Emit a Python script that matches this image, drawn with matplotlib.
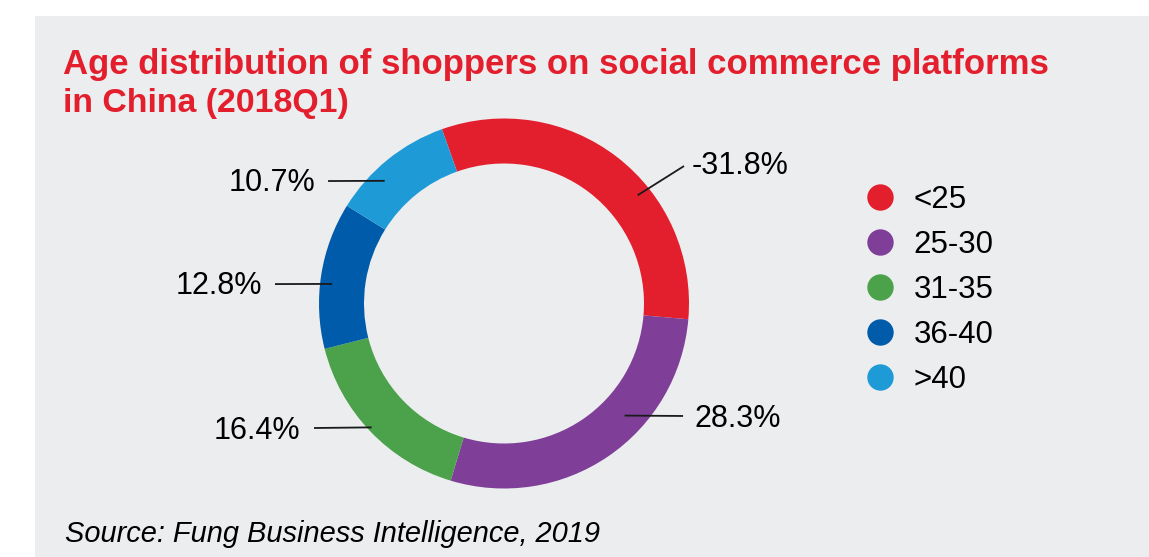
import numpy as np
import matplotlib.pyplot as plt
from matplotlib.patches import Rectangle
from matplotlib.lines import Line2D

plt.rcParams['font.family'] = ['Liberation Sans', 'DejaVu Sans']

# age groups and share of shoppers (%)
groups = ['<25', '25-30', '31-35', '36-40', '>40']
shares = [31.8, 28.3, 16.4, 12.8, 10.7]
share_labels = ['-31.8%', '28.3%', '16.4%', '12.8%', '10.7%']
colors = ['#e31f2d', '#7f3f98', '#4ba24a', '#005baa', '#1e9ad6']

W, H = 1149, 557
BG = '#ecedef'

fig = plt.figure(figsize=(W / 100, H / 100), dpi=100)
fig.patch.set_facecolor('white')
fig.patches.append(Rectangle((35 / W, 0), 1 - 35 / W, (H - 16) / H,
                             transform=fig.transFigure, facecolor=BG,
                             edgecolor='none', zorder=-1))

# donut centre / radius in pixels
cx, cy, R = 504, 303.5, 185
ax = fig.add_axes([(cx - R) / W, (H - cy - R) / H, 2 * R / W, 2 * R / H])

wedges, _ = ax.pie(shares, colors=colors, startangle=109.6, counterclock=False,
                   radius=1, wedgeprops=dict(width=45 / R, edgecolor='none'))
# pie() pads the limits to 1.25, pull them back so the ring fills the box
ax.set_xlim(-1, 1)
ax.set_ylim(-1, 1)
ax.axis('off')

# leader line anchors (angle deg, radius) and label positions, in donut units
anchors = [(39, 0.93), (-42.9, 0.89), (-136.9, 0.98), (173.5, 0.935), (134.2, 0.925)]
line_ends = [(0.973, 0.743), (0.968, -0.608), (-1.027, -0.673), (-1.238, 0.105), (-0.951, 0.662)]
text_pos = [(1.016, 0.745), (1.032, -0.624), (-1.103, -0.688), (-1.308, 0.096), (-1.022, 0.652)]
text_ha = ['left', 'left', 'right', 'right', 'right']

for lab, (ang, r), (ex, ey), (tx, ty), ha in zip(share_labels, anchors, line_ends, text_pos, text_ha):
    a = np.deg2rad(ang)
    ax.plot([r * np.cos(a), ex], [r * np.sin(a), ey], color='#1a1a1a', lw=1.3,
            clip_on=False, solid_capstyle='butt')
    ax.text(tx, ty, lab, ha=ha, va='center', fontsize=22, color='black', clip_on=False)

# title and source
fig.text(63 / W, 1 - 74 / H, 'Age distribution of shoppers on social commerce platforms',
         fontsize=25, fontweight='bold', color='#e31f2d', va='baseline')
fig.text(63 / W, 1 - 112 / H, 'in China (2018Q1)',
         fontsize=24.4, fontweight='bold', color='#e31f2d', va='baseline')
fig.text(65 / W, 1 - 542 / H, 'Source: Fung Business Intelligence, 2019',
         fontsize=20.9, fontstyle='italic', color='black', va='baseline')

handles = [Line2D([], [], marker='o', linestyle='none', markersize=19,
                  markerfacecolor=c, markeredgecolor='none') for c in colors]
fig.legend(handles, groups, loc='upper left',
           bbox_to_anchor=(864 / W, 1 - 185 / H), bbox_transform=fig.transFigure,
           frameon=False, fontsize=22.5, borderpad=0, borderaxespad=0,
           handlelength=1.0, handletextpad=0.58, labelspacing=0.48)

fig.savefig('out.png', dpi=100, facecolor='white')
